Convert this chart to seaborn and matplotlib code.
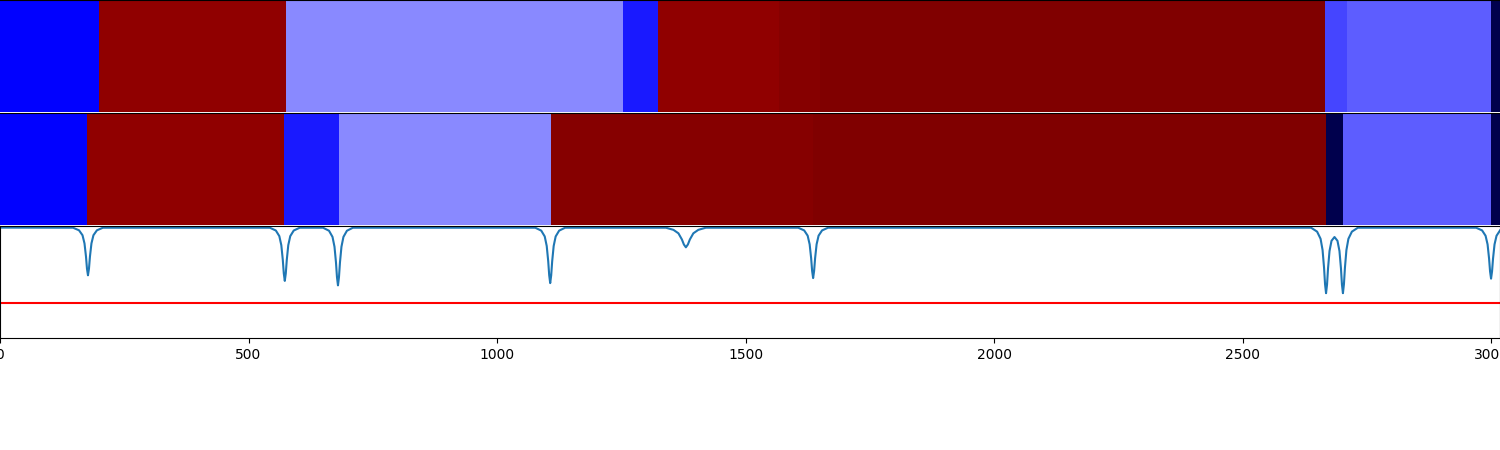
import numpy as np
import matplotlib
matplotlib.use("Agg")
import matplotlib.pyplot as plt
import seaborn as sns

# ---- segmentation rows (boundaries in samples, value per segment) ----
n_samples = 3018
row1_bounds = [0, 199, 575, 1253, 1324, 1567, 1650, 2666, 2710, 3000, 3018]
row1_values = [0.25, 0.966, 0.385, 0.2745, 0.966, 0.985, 1.0, 0.319, 0.342, 0.0]
row2_bounds = [0, 175, 571, 682, 1109, 1636, 2668, 2702, 3000, 3018]
row2_values = [0.25, 0.966, 0.2745, 0.385, 0.985, 1.0, 0.0, 0.342, 0.0]

# ---- score curve ----
curve_x = [0,
           147, 159, 166, 170, 173, 175, 177, 179, 181, 184, 188, 195, 207,
           543, 555, 562, 566, 569, 571, 573, 575, 577, 580, 584, 591, 603,
           650, 662, 669, 673, 676, 678, 680, 682, 684, 687, 691, 698, 710,
           1077, 1089, 1096, 1100, 1103, 1105, 1107, 1109, 1111, 1114, 1118, 1125, 1137,
           1340, 1355, 1365, 1372, 1376, 1380, 1384, 1388, 1395, 1405, 1420,
           1606, 1618, 1625, 1629, 1632, 1634, 1636, 1638, 1640, 1643, 1647, 1654, 1666,
           2638, 2650, 2657, 2661, 2664, 2666, 2668, 2670, 2672, 2675, 2679, 2685,
           2691, 2695, 2698, 2700, 2702, 2704, 2706, 2709, 2713, 2720, 2732,
           2970, 2982, 2989, 2993, 2996, 2998, 3000, 3002, 3004, 3007, 3011, 3018]
curve_y = [0.986,
           0.985, 0.962, 0.918, 0.845, 0.728, 0.619, 0.56, 0.619, 0.728, 0.845, 0.918, 0.962, 0.985,
           0.985, 0.960, 0.910, 0.829, 0.697, 0.576, 0.51, 0.576, 0.697, 0.829, 0.910, 0.960, 0.985,
           0.985, 0.958, 0.903, 0.815, 0.674, 0.543, 0.47, 0.543, 0.674, 0.815, 0.903, 0.958, 0.985,
           0.985, 0.959, 0.907, 0.822, 0.686, 0.560, 0.49, 0.560, 0.686, 0.822, 0.907, 0.959, 0.985,
           0.985, 0.966, 0.935, 0.880, 0.835, 0.81, 0.835, 0.880, 0.935, 0.966, 0.985,
           0.985, 0.961, 0.914, 0.837, 0.713, 0.599, 0.535, 0.599, 0.713, 0.837, 0.914, 0.961, 0.985,
           0.985, 0.950, 0.886, 0.786, 0.627, 0.480, 0.40, 0.477, 0.622, 0.777, 0.868, 0.902,
           0.868, 0.777, 0.622, 0.477, 0.40, 0.480, 0.627, 0.786, 0.886, 0.950, 0.985,
           0.985, 0.961, 0.913, 0.836, 0.710, 0.595, 0.53, 0.595, 0.710, 0.836, 0.913, 0.961]
threshold = 0.31


def build_row(bounds, values):
    lengths = np.diff(bounds)
    return np.repeat(values, lengths)[None, :]


fig = plt.figure(figsize=(15, 4.5), dpi=100)
gs = fig.add_gridspec(3, 1, left=0, right=1, top=1, bottom=0.249, hspace=0.01)
ax1 = fig.add_subplot(gs[0])
ax2 = fig.add_subplot(gs[1])
ax3 = fig.add_subplot(gs[2])

for ax, b, v in [(ax1, row1_bounds, row1_values), (ax2, row2_bounds, row2_values)]:
    sns.heatmap(build_row(b, v), ax=ax, cmap="seismic", vmin=0, vmax=1,
                cbar=False, xticklabels=False, yticklabels=False)
    ax.set_xlim(0, n_samples)
    ax.spines["top"].set_visible(True)
    ax.spines["top"].set_color("black")
    ax.tick_params(left=False, bottom=False)

sns.lineplot(x=curve_x, y=curve_y, ax=ax3, color="#1f77b4", linewidth=1.5)
ax3.axhline(threshold, color="red", linewidth=1.5)
ax3.set_xlim(0, n_samples)
ax3.set_ylim(0, 1)
ax3.set_yticks([])
ax3.set_xticks([0, 500, 1000, 1500, 2000, 2500, 3000])

fig.savefig("out.png", dpi=100)
